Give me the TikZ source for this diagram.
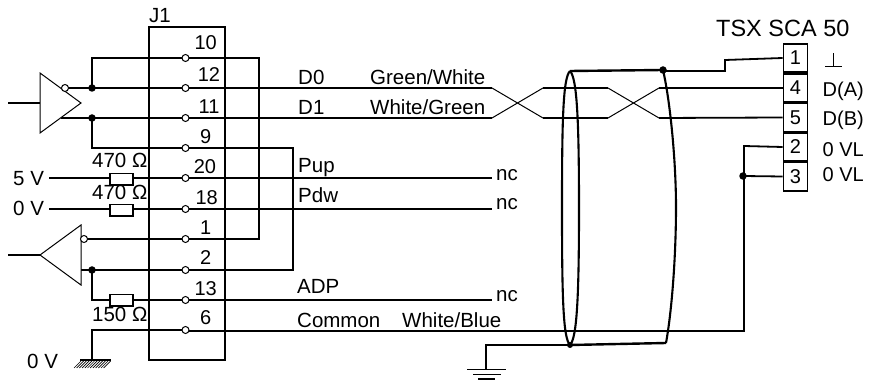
\documentclass[tikz,border=0pt]{standalone}
\usepackage{fontspec}
\setmainfont{Liberation Sans}
\tikzset{
 x=1pt,y=-1pt,
 wire/.style={line width=1.8pt},
 thin wire/.style={line width=1pt},
 shield/.style={line width=2.1pt},
 pin/.style={circle,draw=black,fill=white,line width=1pt,inner sep=0pt,minimum size=7pt},
 dot/.style={circle,fill=black,inner sep=0pt,minimum size=7.5pt},
 res/.style={rectangle,draw=black,fill=white,line width=1.5pt,inner sep=0pt,minimum width=23pt,minimum height=11.5pt},
 lbl/.style={inner sep=0pt,font=\fontsize{20.5}{20.5}\selectfont,anchor=base west},
 rlbl/.style={inner sep=0pt,font=\fontsize{20}{20}\selectfont,anchor=base west},
 num/.style={inner sep=0pt,font=\fontsize{20}{20}\selectfont,anchor=base},
 cell/.style={rectangle,draw=black,fill=white,line width=1.8pt,inner sep=0pt,minimum width=24pt,minimum height=28.5pt,font=\fontsize{20}{20}\selectfont},
 amp/.style={line width=1pt,fill=white},
}
\begin{document}
\begin{tikzpicture}
\useasboundingbox (0,0) rectangle (871,382);
% J1 box
\node[draw=black,line width=1.8pt,minimum width=76pt,minimum height=333pt,inner sep=0pt] (box) at (187,193.5) {};
\node[lbl] (j1) at (149,23) {J1};
% pins
\foreach \n/\y in {10/58,12/88,11/118,9/148,20/178,18/209,1/239,2/270,13/300,6/330}{
 \coordinate (p\n) at (185.5,\y);
}
\foreach \n/\xx/\yy in {10/205.7/50,12/209/81.7,11/209/114,9/205.7/144,20/205/174,18/206.7/205,1/205.7/235,2/205.7/265,13/205.7/296,6/205.7/325}{
 \node[num] at (\xx,\yy) {\n};
}
% free end coordinates
\coordinate (lin) at (8,103);
\coordinate (rin) at (8,255);
\coordinate (a) at (92,88);
\coordinate (b) at (92,118);
\coordinate (c) at (92,270);
\coordinate (d) at (743,176);
% driver wires
\draw[wire] (lin) -- (40,103);
\draw[wire] (rin) -- (40,255);
\draw[wire] (p12) -- (a) -- (68,88);
\draw[wire] (p11) -- (b) -- (61,118);
\draw[wire] (a) |- (p10) -- (259,58) |- (p1) -- (87,239);
\draw[wire] (b) |- (p9) -- (293,148) |- (p2) -- (81,270);
\draw[wire] (c) |- (p13);
\draw[wire] (49,178) -- (p20) -- (492,178);
\draw[wire] (49,209) -- (p18) -- (492,209);
\draw[wire] (p13) -- (492,300);
% twisted pair
\draw[wire] (p12) -- (492,88);
\draw[wire] (p11) -- (492,118);
\draw[thin wire] (492,88) -- (543,118);
\draw[thin wire] (492,118) -- (543,88);
\draw[wire] (543,88) -- (608,88);
\draw[wire] (543,118) -- (608,118);
\draw[thin wire] (608,88) -- (659,118);
\draw[thin wire] (608,118) -- (659,88);
% connector
\node[cell] (c1) at (795.5,58) {1};
\node[cell] (c4) at (795.5,88) {4};
\node[cell] (c5) at (795.5,117.5) {5};
\node[cell] (c2) at (795.5,147) {2};
\node[cell] (c3) at (795.5,176.5) {3};
\draw[wire] (659,88) -- (c4.west);
\draw[wire] (659,118) -- (c5.west);
\draw[wire] (663,71) -- (725,71) -- (725,60) -- (c1.west);
\draw[wire] (c2.west) -- (744,146) -- (744,331) -- (185.5,331);
\draw[wire] (d) -- (c3.west);
\draw[wire] (p6) -- (92,330) -- (92,360);
% shield
\draw[shield] (570,71) .. controls (563,78) and (562,120) .. (562,208) .. controls (562,296) and (563,338) .. (570,345);
\draw[shield] (570,71) .. controls (577,78) and (579,120) .. (579,208) .. controls (579,296) and (577,338) .. (570,345);
\draw[shield,line width=2.4pt] (570,71) -- (663,70);
\draw[shield,line width=2.4pt] (570,345) -- (666,343);
\draw[shield] (663,70) .. controls (670,100) and (676,160) .. (676,207) .. controls (676,255) and (672,310) .. (666,343);
\draw[wire] (570,345) -- (486,345) -- (486,369);
% ground symbols
\draw[wire] (467,369.5) -- (506,369.5);
\draw[wire] (473,374.5) -- (501,374.5);
\draw[wire] (478,379) -- (495,379);
\draw[wire] (80,360) -- (111,360);
\foreach \i in {0,...,11}{\draw[line width=0.7pt] (74+\i*2.7,368) -- (81+\i*2.7,361);}
% amps
\draw[amp] (40,73) -- (81,103) -- (40,133) -- cycle;
\draw[amp] (81,225) -- (40,255) -- (81,285) -- cycle;
\node[pin] at (65,88) {};
\node[pin] at (84,239) {};
% resistors
\node[res] (r1) at (121.5,179.5) {};
\node[res] (r2) at (121.5,210.5) {};
\node[res] (r3) at (121.5,300.5) {};
% dots and pins on top
\foreach \p in {a,b,c,d}{\node[dot] at (\p) {};}
\node[dot] at (663,70) {};
\node[dot,minimum size=6pt] at (570,345) {};
\foreach \n in {10,12,11,9,20,18,1,2,13,6}{\node[pin] at (p\n) {};}
% labels
\node[lbl] at (92,168) {470 Ω};
\node[lbl] at (92,200) {470 Ω};
\node[lbl] at (92,322) {150 Ω};
\node[lbl] at (13,186) {5 V};
\node[lbl] at (13,216) {0 V};
\node[lbl] at (27,369) {0 V};
\node[lbl] at (298,85) {D0};
\node[lbl] at (298,115) {D1};
\node[lbl] at (370,85) {Green/White};
\node[lbl] at (370,115) {White/Green};
\node[lbl] at (298,173) {Pup};
\node[lbl] at (298,203) {Pdw};
\node[lbl] at (297,294) {ADP};
\node[lbl] at (297,327) {Common};
\node[lbl] at (402,327) {White/Blue};
\node[lbl] at (496,181) {nc};
\node[lbl] at (496,210) {nc};
\node[lbl] at (496,302) {nc};
\node[lbl,font=\fontsize{23.5}{23.5}\selectfont] at (716,37) {TSX SCA 50};
\node[rlbl] at (822.5,97) {D(A)};
\node[rlbl] at (822.5,126) {D(B)};
\node[rlbl] at (822.5,157) {0 VL};
\node[rlbl] at (822.5,182) {0 VL};
% signal-ground mark
\draw[line width=1pt] (825,66.5) -- (842,66.5);
\draw[line width=1pt] (833.5,66.5) -- (833.5,53);
\end{tikzpicture}
\end{document}
